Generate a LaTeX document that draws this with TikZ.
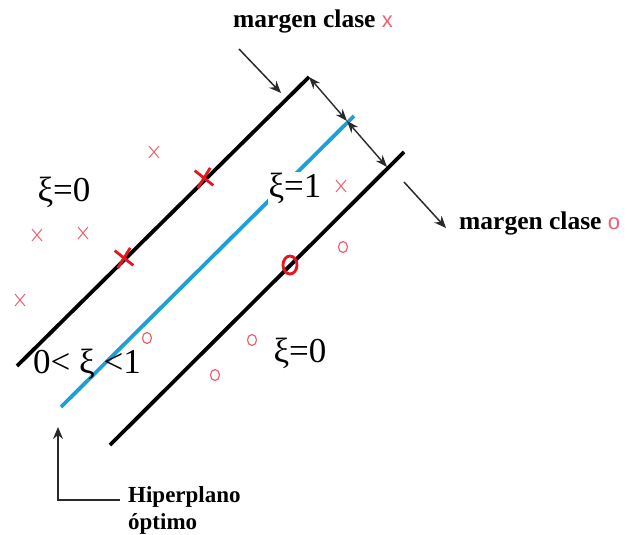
\documentclass[tikz,border=0pt]{standalone}
\usepackage{fontspec}
\setmainfont{Liberation Serif}
\newfontfamily\sansx{Liberation Sans}
\usetikzlibrary{arrows.meta,shapes.misc,shapes.geometric}
\definecolor{ptred}{HTML}{F0606E}
\definecolor{boldred}{HTML}{E8141E}
\definecolor{hblue}{HTML}{1E9FDB}
\definecolor{arrgray}{HTML}{2A2A2A}
\newcommand{\legmark}[1]{{\fontsize{22}{26}\selectfont\sansx\mdseries\color{ptred}#1}}
\tikzset{
  sepline/.style={line width=3.8pt},
  blueline/.style={line width=3.8pt, draw=hblue},
  dblarrow/.style={line width=1.4pt, arrgray, {Stealth[length=12pt,width=9pt]}-{Stealth[length=12pt,width=9pt]}},
  ptrarrow/.style={line width=1.5pt, arrgray, -{Stealth[length=12pt,width=10pt]}},
  xpt/.style={cross out, draw=ptred, line width=1pt, minimum width=9pt, minimum height=11pt, inner sep=0pt},
  opt/.style={ellipse, draw=ptred, line width=1.2pt, minimum width=9pt, minimum height=11pt, inner sep=0pt},
  boldx/.style={cross out, draw=boldred, line width=2.8pt, minimum width=13pt, minimum height=15pt, inner sep=0pt, rotate=10},
  boldo/.style={ellipse, draw=boldred, line width=2.8pt, minimum width=14pt, minimum height=18pt, inner sep=0pt},
  xil/.style={font=\fontsize{35}{40}\selectfont, inner sep=1pt, anchor=base},
  boldlbl/.style={font=\fontsize{25.5}{28}\selectfont\bfseries, inner sep=0pt, anchor=base west},
  hiplbl/.style={font=\fontsize{23}{28}\selectfont\bfseries, inner sep=0pt, anchor=base west},
}
\begin{document}
\begin{tikzpicture}[x=1pt,y=-1pt]
\useasboundingbox (0,0) rectangle (627,535);
% lines
\coordinate (u1) at (17,366); \coordinate (u2) at (309,77);
\coordinate (b1) at (61,407); \coordinate (b2) at (354,116);
\coordinate (l1) at (110,445); \coordinate (l2) at (404,152);
\draw[sepline] (u1) -- (u2);
\draw[blueline] (b1) -- (b2);
\draw[sepline] (l1) -- (l2);
% margin arrows
\coordinate (m1) at (347,121); \coordinate (m2) at (387,167);
\draw[dblarrow] (u2) -- (m1);
\draw[dblarrow] (m1) -- (m2);
% labels
\node[xil] (xa) at (64,201) {ξ=0};
\node[xil, fill=white] (xb) at (295,197) {ξ=1};
\node[xil] (xc) at (87,373) {0< ξ <1};
\node[xil] (xd) at (300,362) {ξ=0};
% data points
\node[xpt] (p1) at (154,152) {};
\node[xpt] (p2) at (37,235) {};
\node[xpt] (p3) at (83,233) {};
\node[xpt] (p4) at (20,300) {};
\node[xpt] (p5) at (341,186) {};
\node[boldx] (q1) at (204,178) {};
\node[boldx] (q2) at (124,258) {};
\node[opt] (o1) at (343,247) {};
\node[opt] (o2) at (147,338) {};
\node[opt] (o3) at (252,340) {};
\node[opt] (o4) at (215,375) {};
\node[boldo] (r1) at (290,265) {};
% legends
\node[boldlbl] (mx) at (233,28) {margen clase \legmark{x}};
\node[boldlbl] (mo) at (459,229) {margen clase \legmark{o}};
\coordinate (ax1) at (239,49); \coordinate (ax2) at (281,93);
\draw[ptrarrow] (ax1) -- (ax2);
\coordinate (ao1) at (404,182); \coordinate (ao2) at (446,228);
\draw[ptrarrow] (ao1) -- (ao2);
% hiperplano
\node[hiplbl] (h1) at (128,502) {Hiperplano};
\node[hiplbl] (h2) at (128,529) {óptimo};
\coordinate (hs) at (120,500); \coordinate (hc) at (58,500); \coordinate (ht) at (58,427);
\draw[ptrarrow] (hs) -- (hc) -- (ht);
\end{tikzpicture}
\end{document}
